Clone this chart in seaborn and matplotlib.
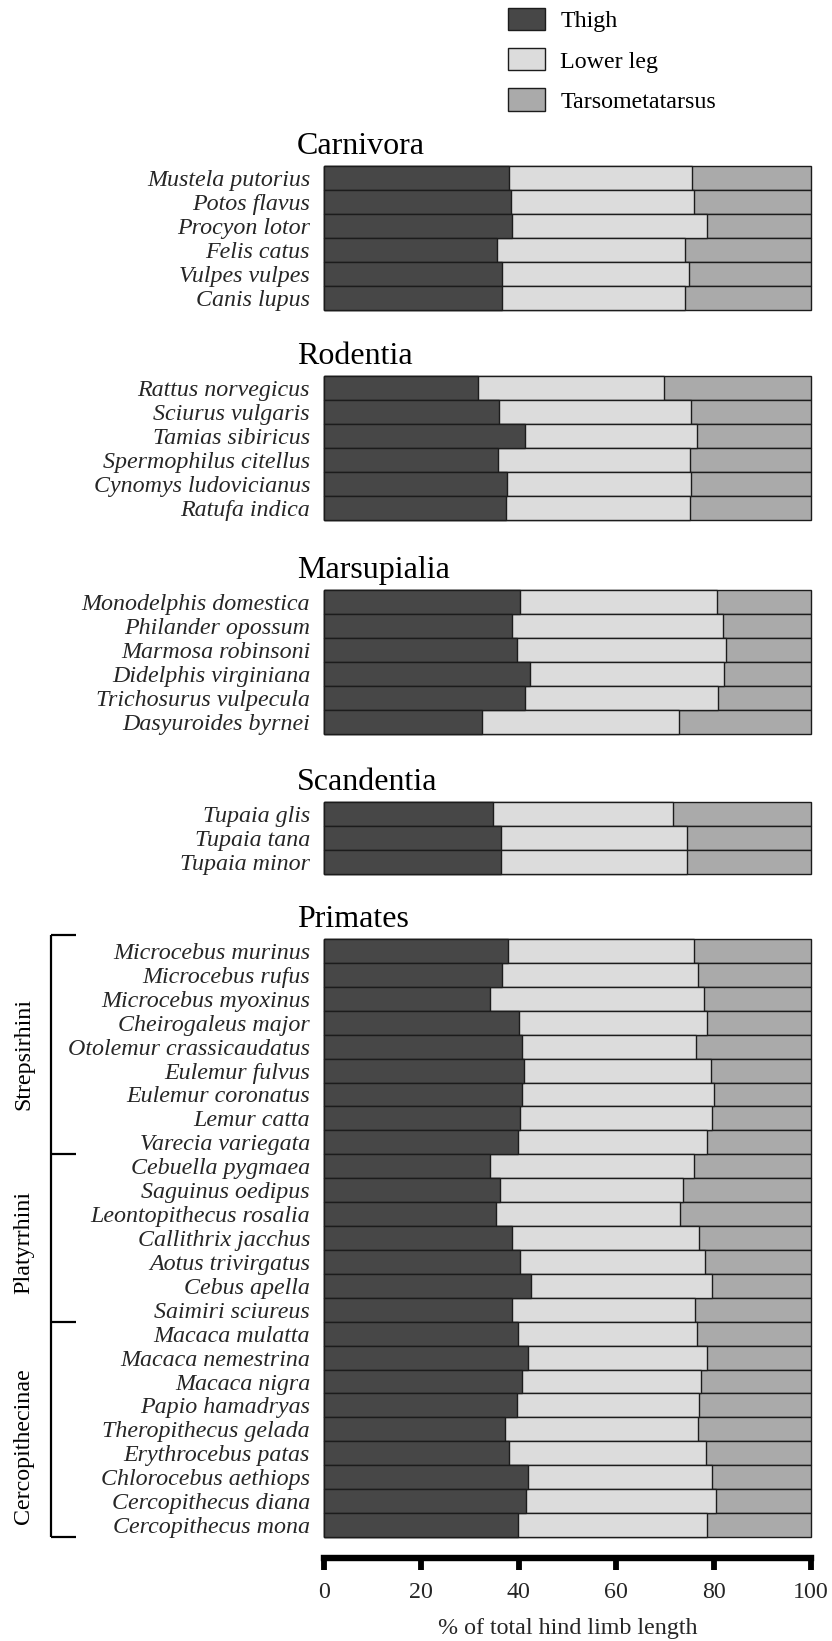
import numpy as np
import pandas as pd
import matplotlib
matplotlib.use("Agg")
import matplotlib.pyplot as plt
import matplotlib.transforms as mtransforms
import seaborn as sns

# ---- data: hind limb segment proportions (% of total hind limb length) ----
carnivora_species = ["Mustela putorius", "Potos flavus", "Procyon lotor",
                     "Felis catus", "Vulpes vulpes", "Canis lupus"]
carnivora_thigh = [37.9, 38.3, 38.7, 35.5, 36.5, 36.5]
carnivora_lower = [37.7, 37.7, 40.0, 38.7, 38.4, 37.7]

rodentia_species = ["Rattus norvegicus", "Sciurus vulgaris", "Tamias sibiricus",
                    "Spermophilus citellus", "Cynomys ludovicianus", "Ratufa indica"]
rodentia_thigh = [31.6, 36.0, 41.3, 35.7, 37.6, 37.4]
rodentia_lower = [38.2, 39.3, 35.2, 39.4, 37.7, 37.7]

marsupialia_species = ["Monodelphis domestica", "Philander opossum", "Marmosa robinsoni",
                       "Didelphis virginiana", "Trichosurus vulpecula", "Dasyuroides byrnei"]
marsupialia_thigh = [40.3, 38.7, 39.7, 42.4, 41.3, 32.4]
marsupialia_lower = [40.4, 43.2, 42.9, 39.8, 39.6, 40.5]

scandentia_species = ["Tupaia glis", "Tupaia tana", "Tupaia minor"]
scandentia_thigh = [34.6, 36.4, 36.4]
scandentia_lower = [37.1, 38.2, 38.2]

primates_species = ["Microcebus murinus", "Microcebus rufus", "Microcebus myoxinus",
                    "Cheirogaleus major", "Otolemur crassicaudatus", "Eulemur fulvus",
                    "Eulemur coronatus", "Lemur catta", "Varecia variegata",
                    "Cebuella pygmaea", "Saguinus oedipus", "Leontopithecus rosalia",
                    "Callithrix jacchus", "Aotus trivirgatus", "Cebus apella",
                    "Saimiri sciureus", "Macaca mulatta", "Macaca nemestrina",
                    "Macaca nigra", "Papio hamadryas", "Theropithecus gelada",
                    "Erythrocebus patas", "Chlorocebus aethiops", "Cercopithecus diana",
                    "Cercopithecus mona"]
primates_thigh = [37.7, 36.5, 34.1, 40.1, 40.6, 41.0, 40.6, 40.3, 39.9,
                  34.1, 36.2, 35.3, 38.6, 40.3, 42.5, 38.7,
                  39.9, 41.8, 40.6, 39.7, 37.2, 38.0, 41.8, 41.5, 39.9]
primates_lower = [38.3, 40.2, 43.9, 38.6, 35.7, 38.4, 39.5, 39.3, 38.8,
                  41.9, 37.5, 37.9, 38.4, 38.0, 37.2, 37.4,
                  36.6, 36.9, 36.8, 37.3, 39.6, 40.5, 37.9, 38.9, 38.8]

primate_clades = ["Strepsirhini", "Platyrrhini", "Cercopithecinae"]
primate_clade_sizes = [9, 7, 9]

order_names = ["Carnivora", "Rodentia", "Marsupialia", "Scandentia", "Primates"]
order_data = [
    (carnivora_species, carnivora_thigh, carnivora_lower),
    (rodentia_species, rodentia_thigh, rodentia_lower),
    (marsupialia_species, marsupialia_thigh, marsupialia_lower),
    (scandentia_species, scandentia_thigh, scandentia_lower),
    (primates_species, primates_thigh, primates_lower),
]

segment_labels = ["Thigh", "Lower leg", "Tarsometatarsus"]
segment_colors = ["#474747", "#dcdcdc", "#aaaaaa"]
edge_color = "#1c1c1c"

# ---- style ----
sns.set_theme(style="white")
plt.rcParams["font.family"] = ["Liberation Serif", "DejaVu Serif"]
plt.rcParams["text.color"] = "black"

FS = 17.3
W, H = 832, 1641
fig = plt.figure(figsize=(W / 100, H / 100), dpi=100)

# panel extents in pixels (top, bottom)
panel_px = [(166, 310), (376, 520), (590, 734), (802, 874), (939, 1537)]
x0_px, x1_px = 324, 811
PX = 0.72  # points per pixel at 100 dpi

axes = []
for name, (top, bot), (species, thigh, lower) in zip(order_names, panel_px, order_data):
    ax = fig.add_axes([x0_px / W, 1 - bot / H, (x1_px - x0_px) / W, (bot - top) / H])
    df = pd.DataFrame({"species": species,
                       "thigh": thigh,
                       "lower": lower})
    df["thigh_lower"] = df["thigh"] + df["lower"]
    df["total"] = 100.0
    common = dict(y="species", orient="h", width=1.0, saturation=1,
                  edgecolor=edge_color, linewidth=1.0, ax=ax, errorbar=None)
    sns.barplot(data=df, x="total", color=segment_colors[2],
                label=segment_labels[2], **common)
    sns.barplot(data=df, x="thigh_lower", color=segment_colors[1],
                label=segment_labels[1], **common)
    sns.barplot(data=df, x="thigh", color=segment_colors[0],
                label=segment_labels[0], **common)
    if ax.get_legend() is not None:
        ax.get_legend().remove()
    n = len(species)
    ax.set_ylim(n - 0.5, -0.5)
    ax.set_xlim(0, 100)
    ax.set_xlabel("")
    ax.set_ylabel("")
    ax.tick_params(axis="y", length=0, pad=10, labelsize=FS)
    for lbl in ax.get_yticklabels():
        lbl.set_fontstyle("italic")
    for s in ax.spines.values():
        s.set_visible(False)
    for p in ax.patches:
        p.set_clip_on(False)
    ax.annotate(name, xy=(0, 1), xycoords="axes fraction",
                xytext=(-27 * PX, 12 * PX), textcoords="offset points",
                ha="left", va="baseline", fontsize=23)
    axes.append(ax)

# hide x axes except the bottom panel
for ax in axes[:-1]:
    ax.set_xticks([])

ax_p = axes[-1]
sns.despine(ax=ax_p, left=True, top=True, right=True, offset={"bottom": 21 * PX})
ax_p.spines["bottom"].set_visible(True)
ax_p.spines["bottom"].set_bounds(0, 100)
ax_p.spines["bottom"].set_linewidth(4.6)
ax_p.spines["bottom"].set_color("black")
ax_p.spines["bottom"].set_capstyle("projecting")
ax_p.set_xticks([0, 20, 40, 60, 80, 100])
ax_p.tick_params(axis="x", direction="out", length=8.3, width=4.2, color="black",
                 labelsize=FS, pad=9, bottom=True)
ax_p.set_xlabel("% of total hind limb length", fontsize=FS, labelpad=11)

# clade brackets beside the primate panel
trans = mtransforms.blended_transform_factory(fig.transFigure, ax_p.transData)
bx, btick = 50.7 / W, 76 / W
bounds = np.concatenate([[0], np.cumsum(primate_clade_sizes)]) - 0.5
bounds[0] -= 0.15
ax_p.plot([bx, bx], [bounds[0], bounds[-1]], color="black", lw=1.6,
          transform=trans, clip_on=False, solid_capstyle="butt")
for b in bounds:
    ax_p.plot([bx, btick], [b, b], color="black", lw=1.6,
              transform=trans, clip_on=False, solid_capstyle="butt")
label_shift = [0.4, 0.2, 0.7]
for clade, lo, hi, dy in zip(primate_clades, bounds[:-1], bounds[1:], label_shift):
    ax_p.text(24 / W, (lo + hi) / 2 + dy, clade, rotation=90, ha="center", va="center",
              fontsize=FS, transform=trans)

# legend
handles, labels = axes[0].get_legend_handles_labels()
order = [labels.index(l) for l in segment_labels]
fig.legend([handles[i] for i in order], [labels[i] for i in order],
           loc="upper left", bbox_to_anchor=(508 / W, 1 - 8 / H),
           frameon=False, fontsize=FS, handlelength=1.55, handleheight=1.05,
           labelspacing=0.66, handletextpad=0.62, borderaxespad=0, borderpad=0)

fig.savefig("out.png", dpi=100)
